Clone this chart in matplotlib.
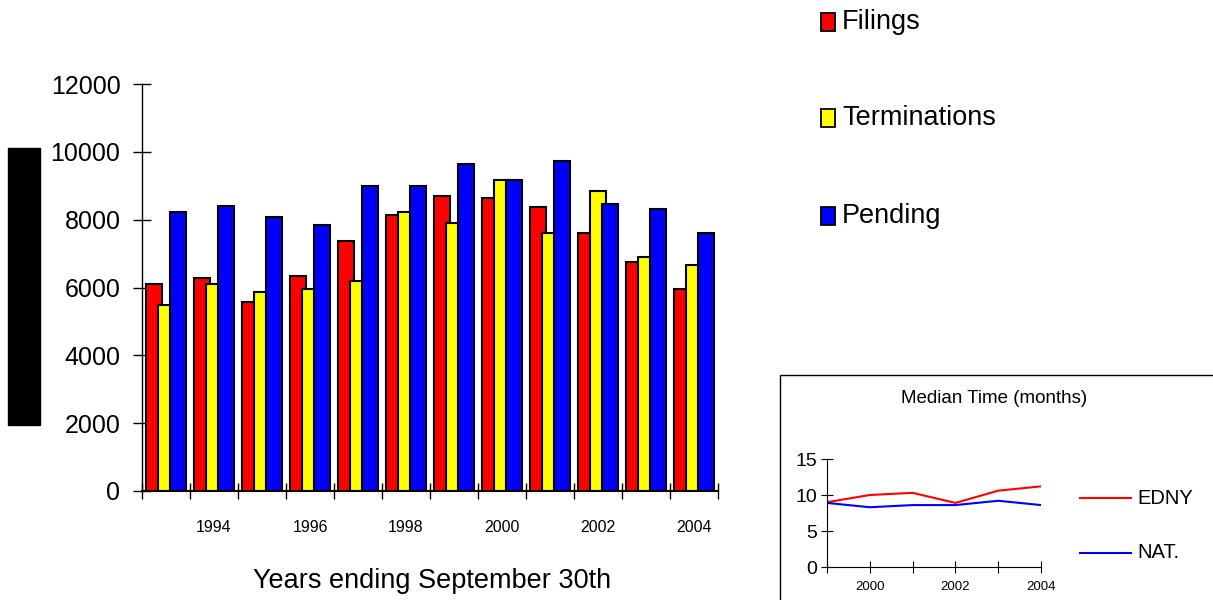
import matplotlib
matplotlib.use("Agg")
import matplotlib.pyplot as plt
from matplotlib.patches import Rectangle
import numpy as np

# fiscal years ending Sept 30th
years = [1993, 1994, 1995, 1996, 1997, 1998, 1999, 2000, 2001, 2002, 2003, 2004]
filings = [6110, 6280, 5560, 6350, 7370, 8150, 8700, 8630, 8380, 7600, 6740, 5960]
terminations = [5480, 6110, 5880, 5960, 6190, 8240, 7910, 9170, 7600, 8850, 6900, 6660]
pending = [8240, 8390, 8080, 7840, 9000, 9000, 9640, 9170, 9720, 8470, 8310, 7600]

series_names = ["Filings", "Terminations", "Pending"]
series_colors = ["#FF0000", "#FFFF00", "#0000FF"]

# median time inset
median_years = [1999, 2000, 2001, 2002, 2003, 2004]
edny = [9.0, 10.0, 10.3, 8.9, 10.6, 11.2]
nat = [8.9, 8.3, 8.6, 8.6, 9.2, 8.6]

W, H = 1213, 600
FONT = ["Liberation Sans", "DejaVu Sans"]


def fx(px):
    return px / W


def fy(py):
    return 1 - py / H


def main():
    fig = plt.figure(figsize=(W / 100, H / 100), dpi=100)

    # ---- main bar chart ----
    ax = fig.add_axes([fx(142), fy(491), fx(718 - 142), (491 - 84) / H])
    x = np.arange(len(years))
    width = 1 / 3
    for i, (vals, color) in enumerate(zip([filings, terminations, pending], series_colors)):
        ax.bar(x + (i - 1) * 0.25, vals, width=width, color=color,
               edgecolor="black", linewidth=1.5, zorder=2 + i)

    ax.set_xlim(-0.5, len(years) - 0.5)
    ax.set_ylim(0, 12000)
    for s in ["top", "right"]:
        ax.spines[s].set_visible(False)
    ax.spines["left"].set_linewidth(1)
    ax.spines["bottom"].set_linewidth(1.5)
    ax.spines["bottom"].set_zorder(10)

    ax.set_yticks(range(0, 12001, 2000))
    ax.set_yticklabels([str(v) for v in range(0, 12001, 2000)], family=FONT, fontsize=18)
    ax.tick_params(axis="y", direction="inout", length=13, width=1, pad=9)

    ax.set_xticks(np.arange(-0.5, len(years)))
    ax.set_xticklabels([])
    ax.tick_params(axis="x", which="major", direction="inout", length=11, width=1)
    even = [i for i, y in enumerate(years) if y % 2 == 0]
    ax.set_xticks(even, minor=True)
    ax.set_xticklabels([str(years[i]) for i in even], minor=True, family=FONT, fontsize=11.5)
    ax.tick_params(axis="x", which="minor", length=0, pad=21)

    fig.text(fx(432), fy(588), "Years ending September 30th", family=FONT,
             fontsize=19.5, ha="center", va="baseline")

    # redacted y label block
    fig.patches.append(Rectangle((fx(8), fy(425)), fx(32), (425 - 148) / H,
                                 transform=fig.transFigure, color="black"))

    # legend
    for name, color, cy in zip(series_names, series_colors, [22, 118, 216]):
        fig.patches.append(Rectangle((fx(821), fy(cy + 9)), fx(14), 18 / H,
                                     transform=fig.transFigure, facecolor=color,
                                     edgecolor="black", linewidth=1.3))
        fig.text(fx(842), fy(cy), name, family=FONT, fontsize=19.5,
                 ha="left", va="center")

    # ---- median time inset ----
    fig.patches.append(Rectangle((fx(780), fy(610)), fx(440), (610 - 375) / H,
                                 transform=fig.transFigure, facecolor="white",
                                 edgecolor="black", linewidth=1, zorder=-1))
    fig.text(fx(994), fy(403), "Median Time (months)", family=FONT,
             fontsize=13.5, ha="center", va="baseline")

    ax2 = fig.add_axes([fx(827), fy(567), fx(1041 - 827), (567 - 459) / H])
    ax2.plot(median_years, edny, color="#FF0000", linewidth=1.5)
    ax2.plot(median_years, nat, color="#0000FF", linewidth=1.5)
    ax2.set_xlim(1999, 2004)
    ax2.set_ylim(0, 15)
    for s in ["top", "right"]:
        ax2.spines[s].set_visible(False)
    ax2.set_yticks([0, 5, 10, 15])
    ax2.set_yticklabels(["0", "5", "10", "15"], family=FONT, fontsize=14)
    ax2.set_xticks(median_years)
    ax2.set_xticklabels(["" if y % 2 else str(y) for y in median_years],
                        family=FONT, fontsize=9.5)
    ax2.tick_params(axis="y", direction="inout", length=8, pad=3)
    ax2.tick_params(axis="x", direction="inout", length=8, pad=6)
    ax2.patch.set_alpha(0)

    for line_color, label, cy in [("#FF0000", "EDNY", 498), ("#0000FF", "NAT.", 553)]:
        fig.add_artist(plt.Line2D([fx(1080), fx(1131)], [fy(cy), fy(cy)],
                                  color=line_color, linewidth=1.5,
                                  transform=fig.transFigure))
        fig.text(fx(1137), fy(cy), label, family=FONT, fontsize=14.5,
                 ha="left", va="center")

    fig.savefig("out.png", dpi=100)
    plt.close(fig)


if __name__ == "__main__":
    main()
